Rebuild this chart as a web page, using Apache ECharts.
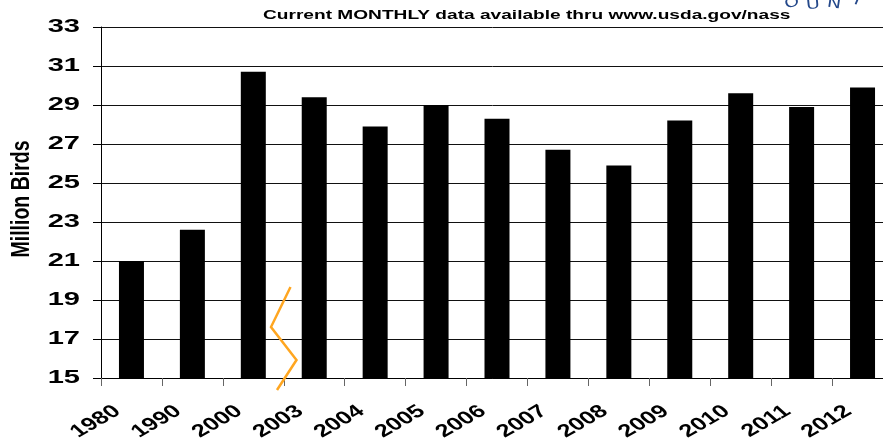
<!DOCTYPE html>
<html>
<head>
<meta charset="utf-8">
<script src="https://cdn.jsdelivr.net/npm/echarts@6/dist/echarts.min.js"></script>
<style>
html,body{margin:0;padding:0;background:#fff;}
#chart{width:883px;height:445px;}
</style>
</head>
<body>
<div id="chart"></div>
<script>
const categories = ['1980','1990','2000','2003','2004','2005','2006','2007','2008','2009','2010','2011','2012'];
const values = [21.0, 22.6, 30.7, 29.4, 27.9, 29.0, 28.3, 26.7, 25.9, 28.2, 29.6, 28.9, 29.9];
const yTicks = [15, 17, 19, 21, 23, 25, 27, 29, 31, 33];
const titleText = 'Current MONTHLY data available thru www.usda.gov/nass';
const yAxisName = 'Million Birds';
const logoLetters = ['O', 'U', 'N', 'T'];

const yMin = yTicks[0], yMax = yTicks[yTicks.length - 1], yStep = yTicks[1] - yTicks[0];
const chart = echarts.init(document.getElementById('chart'), null, {renderer: 'canvas'});
const fam = 'Arial, "Liberation Sans", sans-serif';
chart.setOption({
  backgroundColor: '#fff',
  animation: false,
  grid: {left: 101, top: 27, width: 792, height: 351, outerBoundsMode: 'none', containLabel: false},
  xAxis: {
    type: 'category',
    data: categories,
    axisLine: {lineStyle: {color: '#000', width: 1}},
    axisTick: {show: true, length: 8, lineStyle: {color: '#666'}},
    axisLabel: {show: false}
  },
  yAxis: {
    type: 'value',
    min: yMin, max: yMax, interval: yStep,
    axisLine: {show: true, lineStyle: {color: '#000', width: 1}},
    axisTick: {show: true, length: 8, lineStyle: {color: '#000'}},
    axisLabel: {show: false},
    splitLine: {show: true, lineStyle: {color: '#111', width: 1}}
  },
  series: [{
    type: 'bar',
    data: values,
    barWidth: 25,
    itemStyle: {color: '#000'}
  }]
});

function txt(s, size, align, vAlign) {
  return {text: s, font: 'bold ' + size + 'px ' + fam, fill: '#000',
          align: align, verticalAlign: vAlign, textAlign: align, textVerticalAlign: vAlign};
}
const g = [];
// title
g.push({type: 'text', x: 263, y: 15, scaleX: 1.47, style: txt(titleText, 13, 'left', 'middle')});
// y axis name
g.push({type: 'text', x: 22, y: 199, rotation: Math.PI / 2, scaleY: 1.35, style: txt(yAxisName, 19.5, 'center', 'middle')});
// y tick labels, placed through the value axis
yTicks.forEach(v => {
  const py = chart.convertToPixel({yAxisIndex: 0}, v);
  g.push({type: 'text', x: 80, y: py, scaleX: 1.57, style: txt(String(v), 18.5, 'right', 'middle')});
});
// x tick labels, placed through the category axis
categories.forEach(c => {
  const px = chart.convertToPixel({xAxisIndex: 0}, c);
  g.push({type: 'group', x: px - 14, y: 409, scaleX: 1.4,
    children: [{type: 'text', rotation: 39 * Math.PI / 180, style: txt(c, 18, 'right', 'middle')}]});
});
// axis break marker
g.push({type: 'polyline', z: 100, shape: {points: [[290.5,287],[271,327],[296.5,360],[277,390]]},
  style: {stroke: '#FFA620', lineWidth: 2.5, fill: null}});
// partial seal lettering at top right
const logoPos = [[792, 3, 0.3], [813, 5, 0.1], [834, 4, -0.15], [857, 1, -0.4]];
logoLetters.forEach((l, i) => {
  const p = logoPos[i];
  g.push({type: 'text', x: p[0], y: p[1], rotation: p[2], scaleX: 1.35,
    style: {text: l, font: '14px "DejaVu Sans", sans-serif', fill: '#24488a',
            align: 'center', verticalAlign: 'middle', textAlign: 'center', textVerticalAlign: 'middle'}});
});
chart.setOption({graphic: g});
</script>
</body>
</html>
